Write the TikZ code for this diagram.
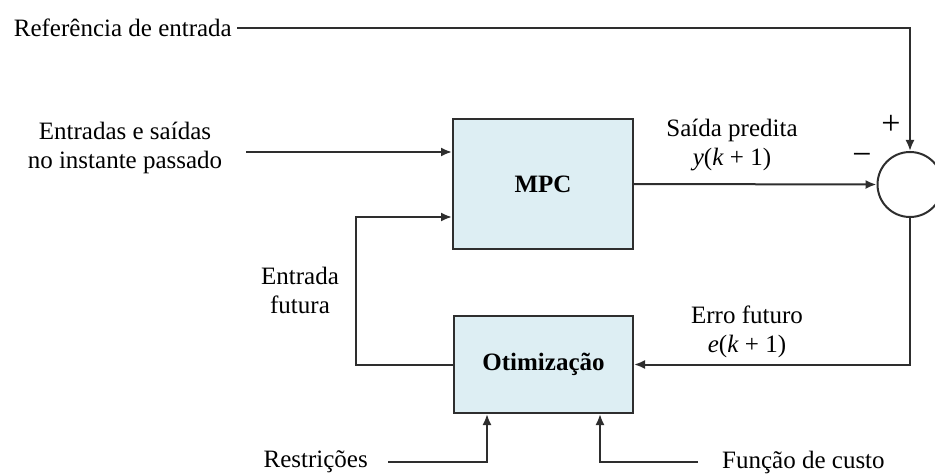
\documentclass[tikz,border=0pt]{standalone}
\usepackage{fontspec}
\setmainfont{Liberation Serif}
\usetikzlibrary{arrows.meta}
\definecolor{blockfill}{HTML}{DDEEF3}
\definecolor{linegray}{HTML}{2E2E2E}
\begin{document}
\begin{tikzpicture}[x=1pt,y=-1pt,
  every node/.style={font=\fontsize{25}{29}\selectfont},
  block/.style={draw=linegray, fill=blockfill, line width=2pt, font=\fontsize{25}{29}\selectfont\bfseries, inner sep=0pt},
  lbl/.style={align=center, inner sep=0pt, text=black},
  conn/.style={line width=2pt, draw=linegray, -{Latex[length=11pt,width=9pt]}}]
\useasboundingbox (0,0) rectangle (935,476);
% blocks
\node[block, minimum width=180pt, minimum height=130pt] (mpc) at (543,184) {MPC};
\node[block, minimum width=179pt, minimum height=97pt] (opt) at (543.5,364.5) {Otimização};
\node[circle, draw=linegray, line width=2pt, fill=white, minimum size=65pt, inner sep=0pt] (sum) at (910,184.5) {};
% labels
\node[lbl, anchor=east] (ref) at (232,28) {Referência de entrada};
\node[lbl] (inp) at (125,148) {Entradas e saídas\\no instante passado};
\node[lbl] (fut) at (300,290) {Entrada\\futura};
\node[lbl, anchor=east] (res) at (368,462) {Restrições};
\node[lbl, anchor=west] (cost) at (722,462) {Função de custo};
\node[lbl] (sp) at (732,145) {Saída predita\\\textit{y}(\textit{k} + 1)};
\node[lbl] (ef) at (747,332) {Erro futuro\\\textit{e}(\textit{k} + 1)};
\node[lbl, font=\fontsize{34}{34}\selectfont] (plus) at (891,125) {+};
\node[lbl, font=\fontsize{34}{34}\selectfont] (minus) at (862,159) {−};
% coordinates
\coordinate (inpstart) at (246,152);
\coordinate (fb) at (356,217);
\coordinate (rs) at (388,462);
\coordinate (cs) at (698,462);
% connectors
\draw[conn] ([xshift=5pt]ref.east) -| (sum.north);
\draw[conn] (inpstart) -- (mpc.west |- inpstart);
\draw[conn] (mpc.east) -- (sum.west);
\draw[conn] (opt.west) -| (fb) -- (mpc.west |- fb);
\draw[conn] (sum.south) |- (opt.east);
\draw[conn] (rs) -| ([xshift=-56.5pt]opt.south);
\draw[conn] (cs) -| ([xshift=56.5pt]opt.south);
\end{tikzpicture}
\end{document}
